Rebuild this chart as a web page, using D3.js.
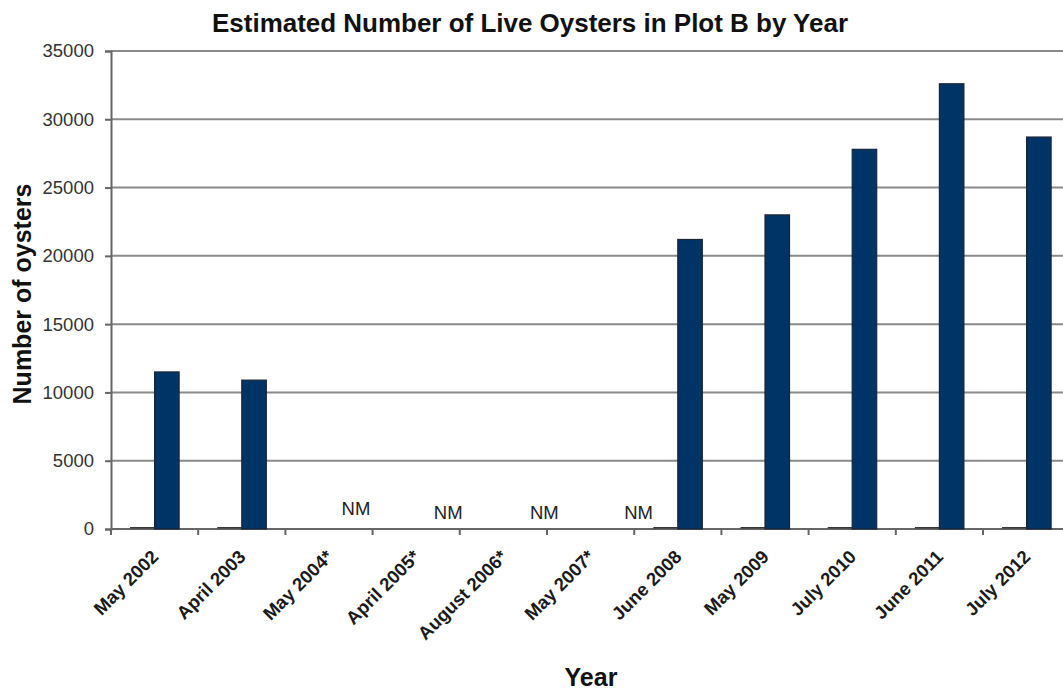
<!DOCTYPE html>
<html>
<head>
<meta charset="utf-8">
<script src="https://cdn.jsdelivr.net/npm/d3@7"></script>
<style>
  html, body { margin: 0; padding: 0; background: #fff; }
  svg { display: block; font-family: "Liberation Sans", Arial, sans-serif; }
</style>
</head>
<body>
<svg id="chart" width="1063" height="690"></svg>
<script>
// Survey dates (asterisk = not measured that year)
const categories = ["May 2002", "April 2003", "May 2004*", "April 2005*", "August 2006*",
  "May 2007*", "June 2008", "May 2009", "July 2010", "June 2011", "July 2012"];

// Companion series, empty in every surveyed year (null = not measured)
const baseSeries = [0, 0, null, null, null, null, 0, 0, 0, 0, 0];

// Estimated live oysters (null = not measured)
const liveOysters = [11500, 10900, null, null, null, null, 21200, 23000, 27800, 32600, 28700];

// Years marked "NM" (not measured)
const notMeasured = ["May 2004*", "April 2005*", "August 2006*", "May 2007*"];
const nmNudge = [{dx: 27, dy: 0}, {dx: 32, dy: 4}, {dx: 41, dy: 4}, {dx: 48, dy: 4}];

const yTicks = [0, 5000, 10000, 15000, 20000, 25000, 30000, 35000];

const svg = d3.select("#chart");
const plotLeft = 111, plotTop = 51, plotBottom = 529;
const band = 87.2;
const plotRight = plotLeft + band * categories.length;

const x = d3.scaleBand().domain(categories).range([plotLeft, plotRight]).paddingInner(0).paddingOuter(0);
const y = d3.scaleLinear().domain([0, 35000]).range([plotBottom, plotTop]);

const barW = 24.5;
const series = ["base", "live"];
const x1 = d3.scaleBand().domain(series)
  .range([x.bandwidth() / 2 - barW, x.bandwidth() / 2 + barW]).padding(0);

// Horizontal gridlines
svg.append("g").selectAll("line").data(yTicks).join("line")
  .attr("x1", plotLeft).attr("x2", plotRight)
  .attr("y1", d => y(d)).attr("y2", d => y(d))
  .attr("stroke", "#8a8a8a").attr("stroke-width", 2);

// Y axis
const yAxis = svg.append("g").attr("transform", `translate(${plotLeft},0)`)
  .call(d3.axisLeft(y).tickValues(yTicks).tickSize(6).tickPadding(11).tickFormat(d3.format("d")));
yAxis.select(".domain").attr("stroke", "#666").attr("stroke-width", 2);
yAxis.selectAll(".tick line").attr("stroke", "#666").attr("stroke-width", 2);
yAxis.selectAll(".tick text").attr("font-size", 18.5).attr("fill", "#333")
  .attr("font-family", "'Liberation Sans', Arial, sans-serif");

// X axis with ticks between categories
svg.append("line").attr("x1", plotLeft).attr("x2", plotRight).attr("y1", plotBottom).attr("y2", plotBottom)
  .attr("stroke", "#666").attr("stroke-width", 2);
const edges = categories.map(c => x(c)).concat([plotRight]);
svg.append("g").selectAll("line").data(edges).join("line")
  .attr("x1", d => d).attr("x2", d => d).attr("y1", plotBottom).attr("y2", plotBottom + 6)
  .attr("stroke", "#666").attr("stroke-width", 2);

// Bars
const rows = categories.map((c, i) => ({cat: c, base: baseSeries[i], live: liveOysters[i]}));
const groups = svg.append("g").selectAll("g").data(rows).join("g")
  .attr("transform", d => `translate(${x(d.cat)},0)`);

groups.filter(d => d.base !== null).append("rect")
  .attr("x", x1("base")).attr("width", x1.bandwidth())
  .attr("y", d => y(d.base) - 2).attr("height", d => Math.max(1.5, y(0) - y(d.base)))
  .attr("fill", "#3a3a3a");

groups.filter(d => d.live !== null).append("rect")
  .attr("x", x1("live")).attr("width", x1.bandwidth())
  .attr("y", d => y(d.live)).attr("height", d => y(0) - y(d.live))
  .attr("fill", "#003366").attr("stroke", "#1b2535").attr("stroke-width", 1.2);

// Rotated category labels
svg.append("g").selectAll("text").data(categories).join("text")
  .attr("transform", d => `translate(${x(d) + x.bandwidth() / 2 + 5},${plotBottom + 29}) rotate(-45)`)
  .attr("text-anchor", "end")
  .attr("font-size", 18.5).attr("font-weight", "bold").attr("fill", "#1a1a1a")
  .text(d => d);

// "NM" notes for unmeasured years
svg.append("g").selectAll("text").data(notMeasured).join("text")
  .attr("x", (d, i) => x(d) + x.bandwidth() / 2 + nmNudge[i].dx)
  .attr("y", (d, i) => 515 + nmNudge[i].dy)
  .attr("text-anchor", "middle").attr("font-size", 18.5).attr("fill", "#222")
  .text("NM");

// Titles
svg.append("text").attr("x", 530).attr("y", 32).attr("text-anchor", "middle")
  .attr("font-size", 25).attr("font-weight", "bold").attr("fill", "#111")
  .attr("textLength", 636).attr("lengthAdjust", "spacingAndGlyphs")
  .text("Estimated Number of Live Oysters in Plot B by Year");

svg.append("text").attr("transform", "translate(31,294) rotate(-90)").attr("text-anchor", "middle")
  .attr("font-size", 25).attr("font-weight", "bold").attr("fill", "#111")
  .text("Number of oysters");

svg.append("text").attr("x", 591).attr("y", 686).attr("text-anchor", "middle")
  .attr("font-size", 25).attr("font-weight", "bold").attr("fill", "#111")
  .text("Year");
</script>
</body>
</html>
